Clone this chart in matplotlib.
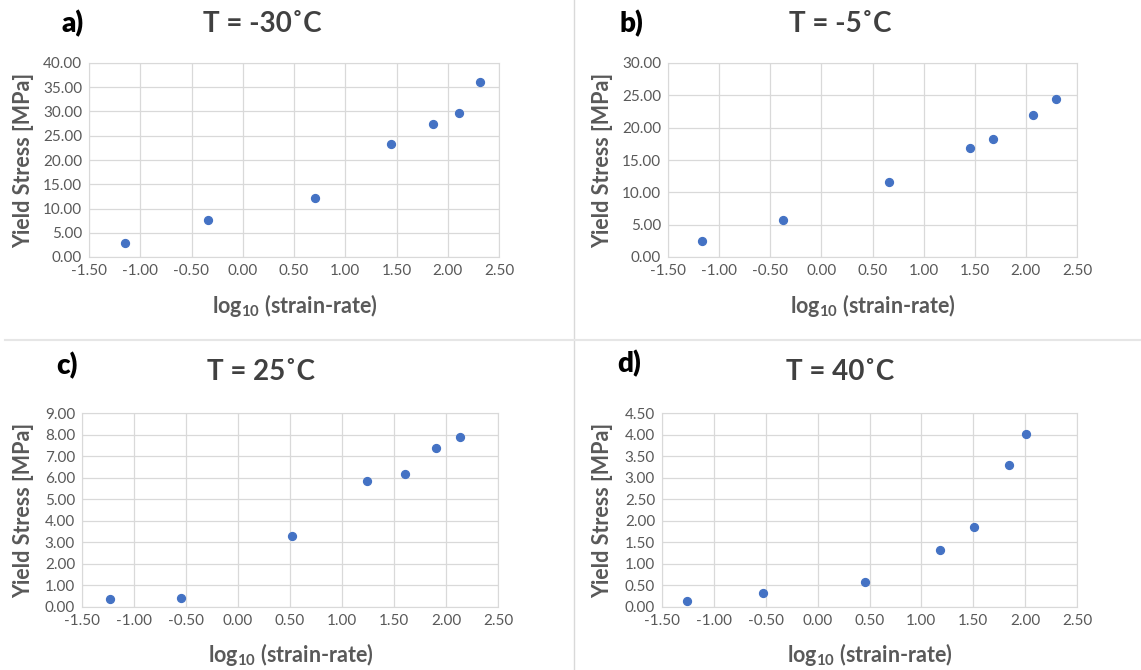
import matplotlib
matplotlib.use("Agg")
import matplotlib.pyplot as plt
from matplotlib.lines import Line2D

plt.rcParams['font.family'] = ['Lato', 'DejaVu Sans']
plt.rcParams['mathtext.fontset'] = 'custom'
plt.rcParams['mathtext.rm'] = 'Lato:bold'
plt.rcParams['mathtext.bf'] = 'Lato:bold'

# data
x_a = [-1.15, -0.34, 0.70, 1.45, 1.86, 2.11, 2.31]
y_a = [2.8, 7.6, 12.1, 23.3, 27.4, 29.7, 36.0]
x_b = [-1.17, -0.38, 0.66, 1.45, 1.68, 2.07, 2.29]
y_b = [2.4, 5.7, 11.6, 16.8, 18.2, 22.0, 24.5]
x_c = [-1.23, -0.55, 0.52, 1.24, 1.61, 1.90, 2.13]
y_c = [0.37, 0.42, 3.28, 5.85, 6.19, 7.39, 7.89]
x_d = [-1.26, -0.53, 0.46, 1.18, 1.51, 1.84, 2.01]
y_d = [0.15, 0.32, 0.58, 1.32, 1.86, 3.30, 4.02]

titles = ['T = -30˚C', 'T = -5˚C', 'T = 25˚C', 'T = 40˚C']
letters = ['a)', 'b)', 'c)', 'd)']
ymaxes = [40, 30, 9, 4.5]
ysteps = [5, 5, 1, 0.5]
xticks = [-1.5, -1.0, -0.5, 0.0, 0.5, 1.0, 1.5, 2.0, 2.5]

W, H = 1141, 670
fig = plt.figure(figsize=(W / 100, H / 100), dpi=100)

def fx(px):
    return px / W

def fy(py):
    return 1 - py / H

# plot area boxes in pixels: left, top, right, bottom
boxes = [(89, 63, 499, 257), (668, 63, 1077, 257),
         (82, 413, 498, 607), (662, 413, 1077, 607)]
letter_pos = [(73, 24), (631, 24), (67, 366), (629, 364)]
title_pos = [(262, 24), (840, 24), (261, 372), (840, 372)]
xlab_pos = [(295, 306), (873, 306), (291, 654), (870, 654)]
ylab_pos = [(24, 160), (603, 160), (24, 510), (603, 510)]

xs = [x_a, x_b, x_c, x_d]
ys = [y_a, y_b, y_c, y_d]
grey = '#595959'

for i in range(4):
    l, t, r, b = boxes[i]
    ax = fig.add_axes([fx(l), fy(b), fx(r) - fx(l), fy(t) - fy(b)])
    ax.scatter(xs[i], ys[i], s=32, color='#4472C4', zorder=3)
    ax.set_xlim(-1.5, 2.5)
    ax.set_ylim(0, ymaxes[i])
    ax.set_xticks(xticks)
    n = int(round(ymaxes[i] / ysteps[i]))
    ax.set_yticks([k * ysteps[i] for k in range(n + 1)])
    ax.set_xticklabels(['%.2f' % v for v in xticks])
    ax.set_yticklabels(['%.2f' % (k * ysteps[i]) for k in range(n + 1)])
    ax.grid(True, color='#d9d9d9', linewidth=0.9)
    ax.set_axisbelow(True)
    for s in ax.spines.values():
        s.set_color('#d9d9d9')
    ax.tick_params(length=0, labelsize=11, colors=grey, pad=5)
    fig.text(fx(letter_pos[i][0]), fy(letter_pos[i][1]), letters[i],
             fontsize=20, fontweight='heavy', color='black', ha='center', va='center')
    fig.text(fx(title_pos[i][0]), fy(title_pos[i][1]), titles[i],
             fontsize=20, fontweight='bold', color='#404040', ha='center', va='center')
    fig.text(fx(xlab_pos[i][0]), fy(xlab_pos[i][1]), r'log$_{10}$ (strain-rate)',
             fontsize=15.5, fontweight='bold', color=grey, ha='center', va='center')
    fig.text(fx(ylab_pos[i][0]), fy(ylab_pos[i][1]), 'Yield Stress [MPa]', rotation=90,
             fontsize=15.5, fontweight='bold', color=grey, ha='center', va='center')

# divider lines between the panels
fig.add_artist(Line2D([fx(574), fx(574)], [0, 1], color='#d9d9d9', linewidth=1))
fig.add_artist(Line2D([fx(5), fx(1141)], [fy(340), fy(340)], color='#e6e6e6', linewidth=1.5))

fig.savefig('out.png', dpi=100)
